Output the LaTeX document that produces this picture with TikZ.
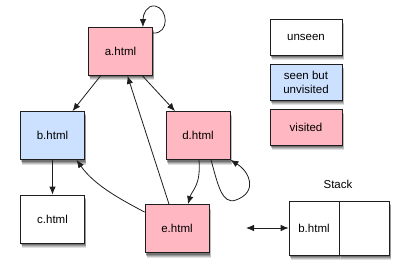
\documentclass[tikz,border=0pt]{standalone}
\usepackage{fontspec}
\setmainfont{Liberation Sans}
\usetikzlibrary{arrows.meta,shadows}
\definecolor{vis}{RGB}{255,183,193}
\definecolor{seen}{RGB}{204,225,255}
\definecolor{edgec}{RGB}{30,30,30}
\begin{document}
\begin{tikzpicture}[x=1pt,y=-1pt,
  box/.style={draw=edgec,line width=0.8pt,minimum width=64pt,minimum height=48pt,inner sep=0pt,
    font=\fontsize{11.5}{14}\selectfont,align=center,
    drop shadow={shadow xshift=1.5pt,shadow yshift=-5pt,opacity=0.12,fill=black},
    drop shadow={shadow xshift=1.5pt,shadow yshift=-4pt,opacity=0.15,fill=black},
    drop shadow={shadow xshift=1pt,shadow yshift=-3pt,opacity=0.2,fill=black},
    drop shadow={shadow xshift=0.5pt,shadow yshift=-2pt,opacity=0.25,fill=black}},
  visited/.style={box,fill=vis},
  seenbox/.style={box,fill=seen},
  unseenbox/.style={box,fill=white},
  legend/.style={box,minimum width=72pt,minimum height=36pt},
  arr/.style={draw=edgec,line width=0.8pt,-{Latex[length=8pt,width=6.5pt]}},
  darr/.style={draw=edgec,line width=0.8pt,{Latex[length=8pt,width=6.5pt]}-{Latex[length=8pt,width=6.5pt]}}]
\useasboundingbox (0,0) rectangle (410,278);
% graph nodes
\node[visited] (a) at (120.5,51.5) {a.html};
\node[seenbox] (b) at (52.5,135.5) {b.html};
\node[visited] (d) at (198,135.5) {d.html};
\node[unseenbox] (c) at (52.5,219) {c.html};
\node[visited] (e) at (177,228.5) {e.html};
% legend
\node[legend,fill=white] (l1) at (306,37) {unseen};
\node[legend,fill=seen] (l2) at (306,82) {seen but\\unvisited};
\node[legend,fill=vis] (l3) at (306,127) {visited};
% stack
\node[box,fill=white,minimum width=50pt,minimum height=54pt] (s1) at (314,228) {b.html};
\node[box,fill=white,minimum width=50pt,minimum height=54pt,anchor=west] (s2) at (s1.east) {};
\node[font=\fontsize{11.5}{14}\selectfont] (st) at (338,184) {Stack};
\coordinate (sl) at (246,228);
% edges
\draw[arr] ([yshift=-6pt]a.north east) .. controls (170,34) and (168,8) .. (155,6)
  .. controls (147,5) and (143,14) .. ([xshift=-10pt]a.north east);
\draw[arr] ([xshift=-20pt]a.south) -- ([xshift=20pt]b.north);
\draw[arr] ([xshift=22pt]a.south) -- ([xshift=-23pt]d.north);
\draw[arr] (b.south) -- (c.north);
\draw[arr] ([xshift=-8pt]e.north) -- ([xshift=7pt]a.south);
\draw[arr] ([yshift=-8pt]e.north west) .. controls (122,200) and (95,186) .. ([xshift=24pt]b.south);
\draw[arr] ([xshift=1pt]d.south) .. controls (201,186) and (192,190) .. ([xshift=11pt]e.north);
\draw[arr] ([xshift=13pt]d.south) .. controls (218,185) and (222,205) .. (236,200)
  .. controls (258,192) and (250,172) .. ([yshift=0pt]d.south east);
\draw[darr] (sl) -- (s1.west);
\end{tikzpicture}
\end{document}
